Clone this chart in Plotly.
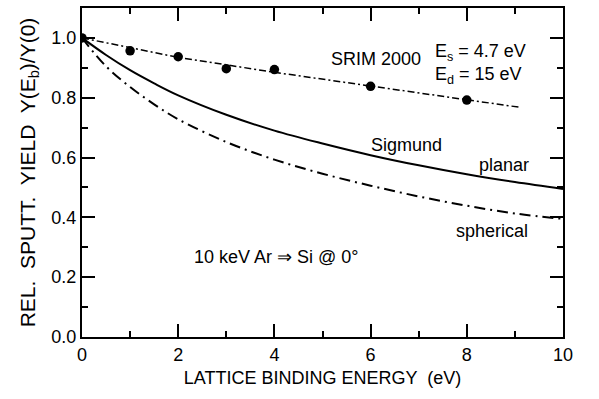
import plotly.graph_objects as go

# SRIM 2000 data points
srim_x = [0, 1, 2, 3, 4, 6, 8]
srim_y = [1.0, 0.957, 0.937, 0.897, 0.894, 0.838, 0.792]
# SRIM trend line (dash-dot)
srim_line_x = [0, 2, 4, 6, 8, 9.1]
srim_line_y = [1.0, 0.935, 0.885, 0.84, 0.795, 0.768]
# Sigmund planar (solid)
planar_x = [0, 0.5, 1, 1.5, 2, 3, 4, 5, 6, 7, 8, 9, 10]
planar_y = [1.0, 0.943, 0.892, 0.848, 0.808, 0.743, 0.69, 0.647, 0.608, 0.574, 0.544, 0.518, 0.495]
# Sigmund spherical (dash-dot)
sph_x = [0, 0.5, 1, 1.5, 2, 3, 4, 5, 6, 7, 8, 9, 10]
sph_y = [1.0, 0.905, 0.836, 0.778, 0.728, 0.652, 0.593, 0.546, 0.506, 0.47, 0.439, 0.413, 0.395]

FONT = "Arial, Liberation Sans, sans-serif"

fig = go.Figure()
fig.add_trace(go.Scatter(x=srim_line_x, y=srim_line_y, mode="lines",
                         line=dict(color="black", width=1.5, dash="7px,3px,2px,3px"),
                         showlegend=False))
fig.add_trace(go.Scatter(x=srim_x, y=srim_y, mode="markers",
                         marker=dict(color="black", size=9.5), showlegend=False))
fig.add_trace(go.Scatter(x=planar_x, y=planar_y, mode="lines", line_shape="spline",
                         line=dict(color="black", width=2), showlegend=False))
fig.add_trace(go.Scatter(x=sph_x, y=sph_y, mode="lines", line_shape="spline",
                         line=dict(color="black", width=2, dash="11px,5px,2px,5px"),
                         showlegend=False))

axis_common = dict(showline=True, linecolor="black", linewidth=2, mirror="allticks",
                   ticks="inside", ticklen=13, tickwidth=2, tickcolor="black",
                   showgrid=False, zeroline=False,
                   tickfont=dict(family=FONT, size=18, color="black"))

fig.update_xaxes(range=[0, 10], dtick=2, tick0=0,
                 minor=dict(dtick=1, ticks="inside", ticklen=6, tickwidth=2, tickcolor="black"),
                 title=dict(text="LATTICE BINDING ENERGY  (eV)", font=dict(family=FONT, size=18, color="black"), standoff=8),
                 **axis_common)
fig.update_yaxes(range=[0, 1.1], dtick=0.2, tick0=0, tickformat=".1f",
                 minor=dict(dtick=0.1, ticks="inside", ticklen=6, tickwidth=2, tickcolor="black"),
                 title=dict(text="REL.  SPUTT.  YIELD  Y(E<sub>b</sub>)/Y(0)", font=dict(family=FONT, size=21, color="black"), standoff=10),
                 **axis_common)

ann_font = dict(family=FONT, size=18, color="black")
anns = [
    ("SRIM 2000", 6.11, 0.93, "center"),
    ("E<sub>s</sub> = 4.7 eV", 7.29, 0.952, "left"),
    ("E<sub>d</sub> = 15 eV", 7.29, 0.875, "left"),
    ("Sigmund", 6.75, 0.642, "center"),
    ("planar", 8.77, 0.576, "center"),
    ("spherical", 8.52, 0.354, "center"),
    ("10 keV Ar \u21d2 Si @ 0\u00b0", 4.05, 0.268, "center"),
]
for t, x, y, al in anns:
    fig.add_annotation(x=x, y=y, text=t, showarrow=False, font=ann_font, xanchor=al)

fig.update_layout(width=599, height=399, plot_bgcolor="white", paper_bgcolor="white",
                  margin=dict(l=82, r=36, t=6, b=62))
fig.write_html("out.html")
